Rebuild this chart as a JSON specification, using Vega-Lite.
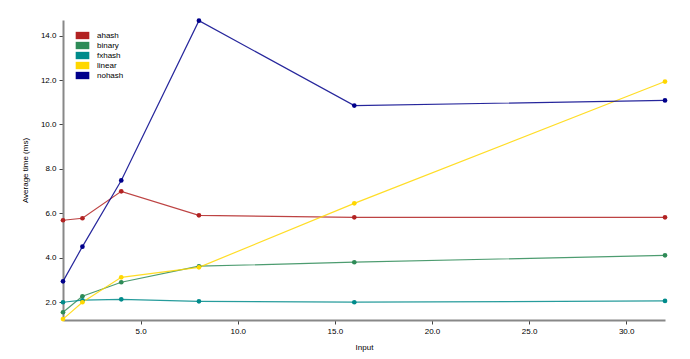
{
  "$schema": "https://vega.github.io/schema/vega-lite/v6.json",
  "width": 602,
  "height": 300,
  "autosize": {"type": "none"},
  "padding": {"left": 63, "top": 20, "right": 25, "bottom": 39},
  "background": "white",
  "config": {
    "view": {"stroke": null},
    "font": "Liberation Sans",
    "axis": {"labelFont": "Liberation Sans", "titleFont": "Liberation Sans", "labelFontSize": 8, "titleFontSize": 8, "titleFontWeight": "normal", "labelColor": "#000", "titleColor": "#000", "grid": false, "domainColor": "#888", "domainWidth": 2, "tickColor": "#444", "tickSize": 4}
  },
  "data": {
    "values": [
      {"input": 1, "algo": "ahash", "time": 5.69},
      {"input": 2, "algo": "ahash", "time": 5.78},
      {"input": 4, "algo": "ahash", "time": 6.99},
      {"input": 8, "algo": "ahash", "time": 5.91},
      {"input": 16, "algo": "ahash", "time": 5.82},
      {"input": 32, "algo": "ahash", "time": 5.82},
      {"input": 1, "algo": "binary", "time": 1.55},
      {"input": 2, "algo": "binary", "time": 2.27},
      {"input": 4, "algo": "binary", "time": 2.9},
      {"input": 8, "algo": "binary", "time": 3.62},
      {"input": 16, "algo": "binary", "time": 3.8},
      {"input": 32, "algo": "binary", "time": 4.11},
      {"input": 1, "algo": "fxhash", "time": 2.0},
      {"input": 2, "algo": "fxhash", "time": 2.09},
      {"input": 4, "algo": "fxhash", "time": 2.13},
      {"input": 8, "algo": "fxhash", "time": 2.04},
      {"input": 16, "algo": "fxhash", "time": 2.0},
      {"input": 32, "algo": "fxhash", "time": 2.06},
      {"input": 1, "algo": "linear", "time": 1.24},
      {"input": 2, "algo": "linear", "time": 2.0},
      {"input": 4, "algo": "linear", "time": 3.12},
      {"input": 8, "algo": "linear", "time": 3.57},
      {"input": 16, "algo": "linear", "time": 6.45},
      {"input": 32, "algo": "linear", "time": 11.93},
      {"input": 1, "algo": "nohash", "time": 2.94},
      {"input": 2, "algo": "nohash", "time": 4.5},
      {"input": 4, "algo": "nohash", "time": 7.48},
      {"input": 8, "algo": "nohash", "time": 14.67},
      {"input": 16, "algo": "nohash", "time": 10.85},
      {"input": 32, "algo": "nohash", "time": 11.08}
    ]
  },
  "encoding": {
    "x": {"field": "input", "type": "quantitative", "title": "Input",
      "scale": {"domain": [1, 32], "nice": false, "zero": false},
      "axis": {"format": ".1f", "values": [5, 10, 15, 20, 25, 30], "titlePadding": 8, "labelPadding": 3}},
    "y": {"field": "time", "type": "quantitative", "title": "Average time (ms)",
      "scale": {"domain": [1.2, 14.7], "nice": false, "zero": false},
      "axis": {"format": ".1f", "values": [2, 4, 6, 8, 10, 12, 14], "titlePadding": 11, "labelPadding": 3}},
    "color": {"field": "algo", "type": "nominal",
      "scale": {"domain": ["ahash", "binary", "fxhash", "linear", "nohash"], "range": ["#b22222", "#2e8b57", "#008b8b", "#ffd700", "#00008b"]},
      "legend": {"title": null, "orient": "none", "legendX": 14, "legendY": 10, "symbolType": "M-1.3,-0.7H1.3V0.7H-1.3Z", "symbolSize": 110, "symbolOpacity": 1, "symbolStrokeWidth": 0, "labelFontSize": 8, "labelOffset": 9, "rowPadding": 0, "labelFont": "Liberation Sans"}}
  },
  "layer": [
    {"mark": {"type": "line", "strokeWidth": 1.2, "opacity": 0.85}},
    {"mark": {"type": "circle", "size": 22, "opacity": 1}}
  ]
}
